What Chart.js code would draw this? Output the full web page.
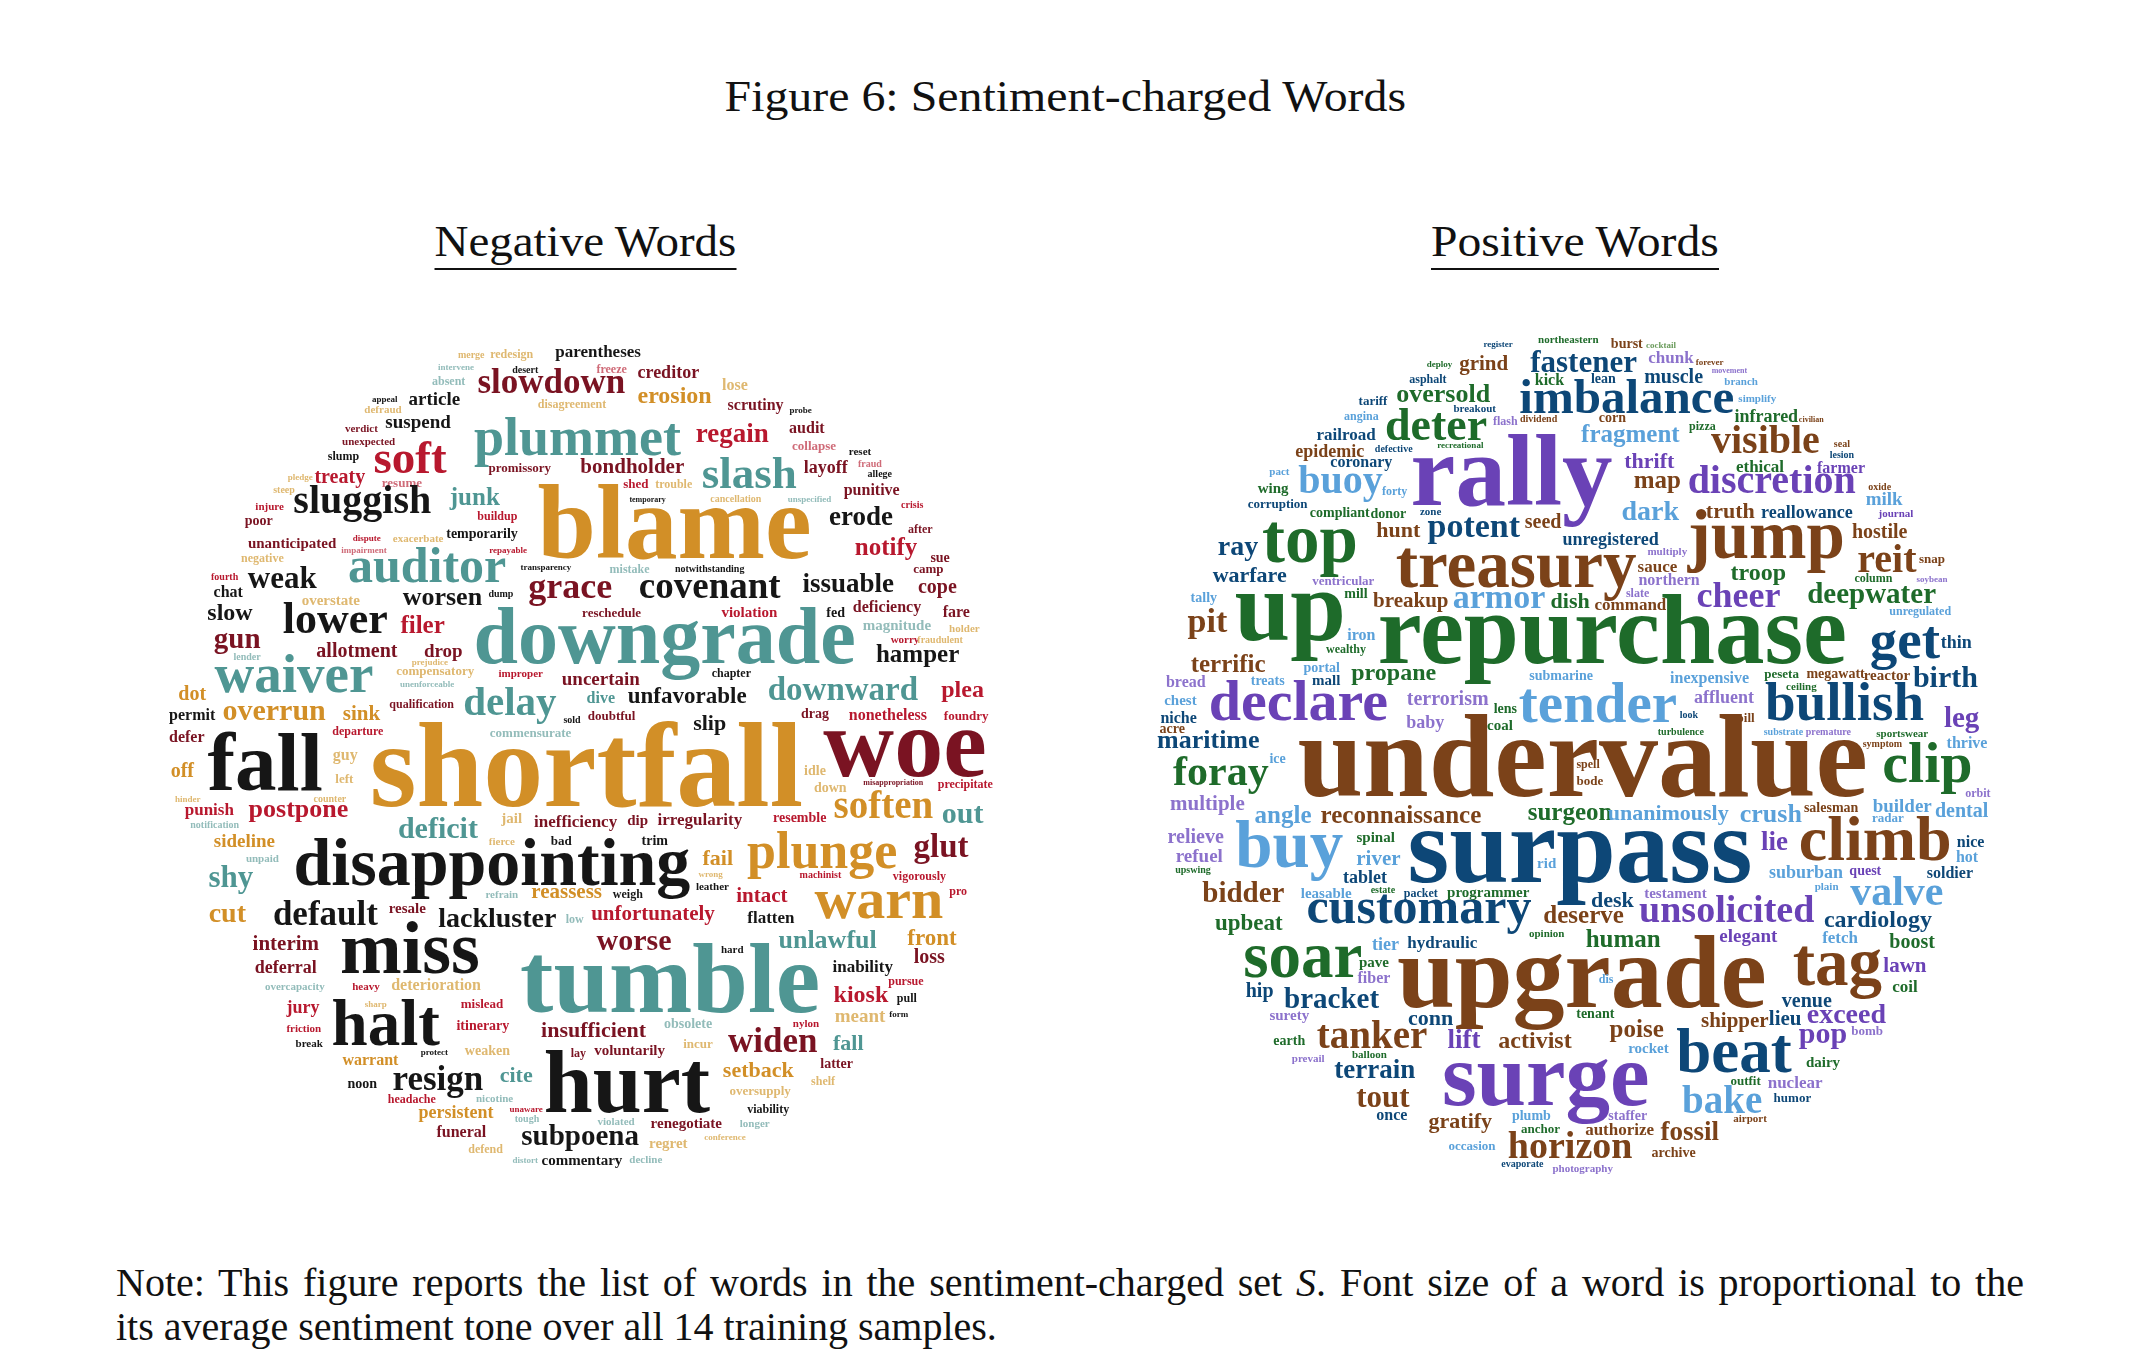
<!DOCTYPE html>
<html>
<head>
<meta charset="utf-8">
<script src="https://cdn.jsdelivr.net/npm/chart.js@4.4.1/dist/chart.umd.min.js"></script>
<style>
  html, body { margin: 0; padding: 0; background: #fff; }
  body { width: 2130px; height: 1362px; position: relative; overflow: hidden;
         font-family: "Liberation Serif", "DejaVu Serif", serif; color: #111; }
  .lbl { position: absolute; line-height: 0; white-space: nowrap; }
  .lbl span { display: inline-block; transform-origin: 50% 50%; }
  .sub { position: absolute; white-space: nowrap; line-height: 44px; font-size: 44px; text-align: center; width: 300px; }
  .sub span { display: inline-block; line-height: 44px; padding-bottom: 4px; border-bottom: 2px solid #111; transform-origin: 50% 50%; }
  canvas { position: absolute; }
  #note1, #note2 { position: absolute; left: 116px; width: 1908px; font-size: 40px; line-height: 0; white-space: nowrap; }
  #note1 { white-space: normal; text-align: justify; text-align-last: justify; }
</style>
</head>
<body>
<div class="lbl" id="title" style="left:0;width:2130px;text-align:center;top:97px;font-size:44px;"><span>Figure 6: Sentiment-charged Words</span></div>
<div class="sub" id="negTitle" style="left:435px;top:220px;"><span>Negative Words</span></div>
<div class="sub" id="posTitle" style="left:1425px;top:220px;"><span>Positive Words</span></div>
<canvas id="negCloud" width="900" height="900" style="left:140px;top:310px;width:900px;height:900px;"></canvas>
<canvas id="posCloud" width="900" height="900" style="left:1130px;top:310px;width:900px;height:900px;"></canvas>
<div id="note1" style="top:1283px;">Note: This figure reports the list of words in the sentiment-charged set <i>S</i>. Font size of a word is proportional to the</div>
<div id="note2" style="top:1327px;">its average sentiment tone over all 14 training samples.</div>
<script>
// word, x, y (0-100 layout grid), average sentiment tone, colour index
const negWords = [
  ["parentheses",50.9,5.2,1.7,0],["slowdown",45.7,9.2,3.5,1],["creditor",58.7,7.6,1.8,1],["freeze",52.4,7.0,1.2,7],
  ["erosion",59.4,10.3,2.4,3],["lose",66.1,8.9,1.6,5],["scrutiny",68.4,11.1,1.6,1],["probe",73.4,11.4,0.9,0],
  ["audit",74.1,13.7,1.6,1],["collapse",74.9,15.6,1.3,7],["regain",65.8,14.7,2.7,2],["plummet",48.6,16.1,5.4,4],
  ["bondholder",54.7,18.1,2.1,1],["slash",67.7,19.8,4.5,4],["layoff",76.2,18.1,1.8,1],["reset",80.0,16.1,1.1,0],
  ["fraud",81.1,17.4,1.0,7],["allege",82.2,18.6,1.0,0],["punitive",81.3,20.6,1.6,1],["shed",55.1,19.8,1.3,2],
  ["trouble",59.3,19.8,1.2,5],["temporary",56.4,21.3,0.8,0],["cancellation",66.2,21.3,1.0,5],["unspecified",74.4,21.3,0.9,6],
  ["blame",59.4,27.6,10.5,3],["erode",80.1,23.9,2.7,0],["crisis",85.8,22.0,1.0,2],["after",86.7,24.8,1.2,1],
  ["notify",82.9,27.2,2.5,2],["sue",88.9,28.0,1.4,1],["camp",87.6,29.2,1.3,1],["cope",88.6,31.4,2.0,1],
  ["fare",90.7,34.1,1.6,1],["holder",91.6,35.8,1.1,5],["issuable",78.7,31.3,2.7,0],["covenant",63.3,32.0,3.7,0],
  ["grace",47.8,32.0,3.6,1],["mistake",54.4,29.2,1.2,6],["notwithstanding",63.3,29.1,1.0,0],["deficiency",83.0,33.6,1.6,1],
  ["fed",77.3,34.1,1.4,0],["violation",67.7,34.1,1.5,2],["reschedule",52.4,34.1,1.3,1],["magnitude",84.1,35.6,1.5,6],
  ["downgrade",58.3,39.2,8.0,4],["hamper",86.4,39.1,2.5,0],["worry",85.0,37.0,1.1,2],["fraudulent",88.9,37.0,1.0,5],
  ["chapter",65.7,40.8,1.2,0],["uncertain",51.2,41.7,1.9,1],["dive",51.2,43.7,1.6,4],["unfavorable",60.8,43.7,2.3,0],
  ["downward",78.1,43.3,3.3,4],["plea",91.4,43.0,2.4,2],["doubtful",52.4,45.6,1.3,1],["slip",63.3,46.7,2.2,0],
  ["drag",75.0,45.3,1.4,1],["nonetheless",83.1,45.6,1.6,2],["foundry",91.8,45.6,1.3,2],["woe",85.0,51.8,9.8,1],
  ["shortfall",49.6,55.1,12.0,3],["fall",13.9,53.3,8.3,0],["redesign",41.3,5.3,1.2,5],["merge",36.8,5.3,1.0,5],
  ["absent",34.3,8.3,1.2,6],["desert",42.8,7.0,1.0,0],["intervene",35.1,6.7,0.9,6],["article",32.7,10.6,1.9,0],
  ["appeal",27.2,10.2,0.9,0],["defraud",27.0,11.4,1.1,5],["suspend",30.9,13.1,1.9,0],["verdict",24.6,13.6,1.1,1],
  ["unexpected",25.4,15.0,1.1,1],["disagreement",48.0,10.9,1.2,5],["slump",22.6,16.7,1.2,0],["soft",30.0,18.1,4.7,2],
  ["treaty",22.2,19.2,2.0,2],["pledge",17.8,18.9,0.9,5],["promissory",42.2,18.0,1.3,1],["resume",29.1,19.7,1.3,7],
  ["steep",16.0,20.3,1.0,5],["sluggish",24.7,22.6,4.0,0],["junk",37.2,21.7,2.5,4],["injure",14.4,22.2,1.1,2],
  ["poor",13.2,23.9,1.4,1],["buildup",39.7,23.3,1.2,2],["temporarily",38.0,25.3,1.4,0],["unanticipated",16.9,26.4,1.5,1],
  ["exacerbate",30.9,25.8,1.1,5],["dispute",25.2,25.7,0.9,2],["repayable",40.9,27.0,0.9,2],["impairment",24.9,27.0,0.9,7],
  ["negative",13.6,28.0,1.2,5],["auditor",31.9,30.2,5.0,4],["transparency",45.1,28.9,0.9,0],["fourth",9.4,30.0,1.0,2],
  ["weak",15.8,30.9,3.1,0],["chat",9.8,31.9,1.6,0],["overstate",21.2,32.8,1.5,5],["worsen",33.6,32.8,2.6,0],
  ["dump",40.1,31.9,1.0,0],["slow",10.0,34.4,2.4,0],["lower",21.7,35.9,4.4,0],["filer",31.4,35.9,2.5,2],
  ["gun",10.8,37.6,2.9,1],["allotment",24.1,38.6,2.0,1],["drop",33.7,38.6,1.9,1],["lender",11.9,38.9,1.0,6],
  ["prejudice",32.2,39.4,0.9,5],["compensatory",32.8,40.6,1.3,5],["improper",42.3,40.8,1.1,2],["waiver",17.1,42.4,5.5,4],
  ["unenforceable",31.9,41.9,0.9,6],["dot",5.8,43.3,2.0,3],["permit",5.8,45.6,1.6,0],["overrun",14.9,45.6,3.0,3],
  ["sink",24.6,45.6,2.1,3],["qualification",31.3,44.2,1.2,1],["delay",41.1,45.0,4.1,4],["defer",5.2,48.0,1.6,1],
  ["departure",24.2,47.2,1.2,2],["commensurate",43.4,47.4,1.3,6],["sold",48.0,45.9,1.0,0],["off",4.7,51.9,2.0,3],
  ["guy",22.8,50.0,1.6,5],["left",22.7,52.6,1.3,5],["punish",7.7,56.1,1.7,2],["postpone",17.6,56.3,2.6,2],
  ["hinder",5.3,54.7,0.9,5],["counter",21.1,54.7,1.0,5],["notification",8.3,57.6,1.0,6],["sideline",11.6,59.7,1.9,3],
  ["shy",10.1,64.1,3.1,4],["unpaid",13.6,61.3,1.1,6],["cut",9.7,68.0,2.8,3],["deficit",33.1,58.7,3.0,4],
  ["jail",41.3,57.0,1.5,5],["inefficiency",48.4,57.4,1.7,1],["dip",55.3,57.2,1.5,1],["irregularity",62.2,57.2,1.7,1],
  ["fierce",40.2,59.4,1.1,5],["bad",46.8,59.4,1.3,0],["disappointing",39.1,63.9,6.8,0],["trim",57.2,59.4,1.4,0],
  ["fail",64.2,61.7,2.2,3],["wrong",63.4,63.0,0.9,5],["weigh",54.2,65.3,1.2,0],["leather",63.6,64.4,1.1,0],
  ["intact",69.1,65.8,2.1,2],["resemble",73.3,56.9,1.4,2],["plunge",75.8,62.0,5.2,3],["soften",82.6,56.4,3.9,3],
  ["out",91.4,57.0,3.0,4],["glut",89.0,60.8,3.3,1],["idle",75.0,51.7,1.4,5],["down",76.7,53.6,1.4,5],
  ["misappropriation",83.7,52.8,0.8,1],["precipitate",91.7,53.1,1.2,2],["machinist",75.6,63.1,1.0,2],["vigorously",86.6,63.3,1.2,2],
  ["pro",90.9,65.0,1.2,2],["warn",82.1,67.6,5.8,3],["unfortunately",57.0,67.8,2.1,2],["flatten",70.1,68.1,1.7,0],
  ["worse",54.9,71.1,3.0,1],["reassess",47.4,65.3,2.1,3],["refrain",40.2,65.3,1.1,6],["default",20.6,68.3,3.5,0],
  ["resale",29.7,67.0,1.5,1],["lackluster",39.7,68.6,2.8,0],["low",48.3,68.1,1.2,6],["interim",16.2,71.1,2.1,1],
  ["miss",30.0,73.7,7.4,0],["deferral",16.2,73.7,1.8,1],["overcapacity",17.2,75.6,1.1,6],["heavy",25.1,75.6,1.1,2],
  ["deterioration",32.9,75.6,1.6,5],["jury",18.1,78.1,1.8,2],["friction",18.2,80.2,1.1,2],["break",18.8,81.9,1.1,0],
  ["halt",27.3,81.7,6.5,0],["sharp",26.2,77.4,0.9,5],["mislead",38.0,77.6,1.3,2],["itinerary",38.1,80.0,1.4,2],
  ["hurt",54.1,89.1,8.8,0],["tumble",58.9,78.0,10.0,4],["insufficient",50.4,80.8,2.2,1],["weaken",38.6,82.8,1.4,5],
  ["warrant",25.6,83.9,1.6,3],["protect",32.7,82.8,0.9,0],["resign",33.1,86.7,3.5,0],["noon",24.7,86.4,1.4,0],
  ["cite",41.8,85.8,2.2,4],["lay",48.7,83.0,1.2,1],["voluntarily",54.4,82.8,1.5,1],["obsolete",60.9,79.8,1.4,6],
  ["incur",62.0,82.0,1.3,5],["widen",70.3,82.4,3.5,1],["nylon",74.0,79.7,1.1,2],["setback",68.7,85.2,2.2,3],
  ["latter",77.4,84.2,1.4,1],["fall",78.7,82.2,2.2,4],["shelf",75.9,86.1,1.2,5],["oversupply",68.9,87.2,1.3,5],
  ["viability",69.8,89.2,1.2,0],["unlawful",76.4,70.9,2.6,4],["front",88.0,70.6,2.3,3],["hard",65.8,71.4,1.1,0],
  ["inability",80.3,73.6,1.7,0],["loss",87.7,72.6,2.0,1],["pursue",85.1,75.0,1.2,2],["kiosk",80.1,76.9,2.4,2],
  ["pull",85.2,76.9,1.2,0],["meant",80.0,79.1,1.9,5],["form",84.3,78.6,0.9,0],["violated",52.9,90.6,1.1,6],
  ["renegotiate",60.7,90.9,1.5,1],["longer",68.3,90.8,1.1,6],["regret",58.7,93.1,1.5,5],["subpoena",48.9,92.8,2.9,0],
  ["commentary",49.1,95.0,1.5,0],["decline",56.2,94.8,1.1,6],["conference",65.0,92.2,0.9,5],["funeral",35.7,91.9,1.6,1],
  ["defend",38.4,93.7,1.2,5],["persistent",35.1,89.8,1.8,3],["headache",30.2,88.1,1.2,2],["nicotine",39.4,88.0,1.1,6],
  ["unaware",42.9,89.1,0.9,2],["tough",43.0,90.2,1.0,6],["distort",42.8,94.8,0.9,6]
];

const posWords = [
  ["fastener",50.4,6.9,3.1,2],["northeastern",48.7,3.7,1.1,0],["burst",55.2,4.2,1.4,1],["cocktail",59.0,4.2,0.9,6],
  ["chunk",60.1,5.9,1.7,5],["forever",64.4,6.1,0.9,1],["grind",39.3,6.7,2.1,1],["deploy",34.4,6.3,0.9,0],
  ["register",40.9,4.1,0.9,2],["kick",46.6,8.3,1.6,0],["lean",52.6,8.1,1.4,2],["muscle",60.4,8.1,2.0,2],
  ["movement",66.6,7.0,0.8,5],["branch",67.9,8.3,1.1,4],["asphalt",33.1,8.1,1.2,2],["imbalance",55.2,11.4,4.9,2],
  ["tariff",27.0,10.6,1.3,2],["oversold",34.8,10.2,2.6,0],["breakout",38.3,11.3,1.1,2],["angina",25.7,12.2,1.2,4],
  ["deter",34.0,14.4,4.6,0],["flash",41.7,12.8,1.2,5],["dividend",45.4,12.4,1.0,1],["corn",53.6,12.4,1.4,1],
  ["railroad",24.0,14.4,1.7,2],["epidemic",22.2,16.3,1.8,1],["defective",29.3,15.8,1.0,2],["recreational",36.7,15.3,0.9,0],
  ["coronary",25.7,17.4,1.6,2],["rally",42.4,21.7,10.1,3],["fragment",55.6,14.7,2.5,4],["pizza",63.6,13.3,1.2,0],
  ["infrared",70.7,12.4,1.8,0],["civilian",75.7,12.4,0.8,1],["simplify",69.7,10.2,1.1,4],["visible",70.6,15.9,4.0,1],
  ["seal",79.1,15.2,1.0,1],["lesion",79.1,16.4,1.0,2],["thrift",57.7,17.6,2.2,3],["ethical",70.0,18.0,1.7,0],
  ["farmer",79.0,18.1,1.6,3],["map",58.6,19.8,2.5,1],["discretion",71.3,20.3,4.0,3],["oxide",83.3,20.0,1.0,1],
  ["dark",57.8,23.3,2.8,4],["truth",66.7,23.1,2.2,1],["reallowance",75.2,23.1,1.8,2],["milk",83.8,21.7,1.9,4],
  ["journal",85.1,23.0,1.1,3],["jump",70.7,27.6,6.9,1],["hostile",83.3,25.3,2.0,1],["reit",84.1,29.1,4.0,1],
  ["snap",89.1,28.1,1.3,1],["unregistered",53.4,26.1,1.8,2],["multiply",59.7,27.2,1.1,5],["sauce",58.6,29.1,1.7,1],
  ["northern",59.9,30.6,1.6,5],["troop",69.8,30.0,2.4,0],["treasury",42.9,30.8,6.7,1],["cheer",67.6,33.0,3.6,3],
  ["slate",56.4,31.9,1.2,5],["command",55.6,33.3,1.7,1],["deepwater",82.4,32.6,2.9,0],["column",82.6,30.2,1.2,0],
  ["soybean",89.1,30.2,0.9,5],["unregulated",87.8,33.9,1.2,4],["get",86.1,38.7,5.5,2],["thin",91.8,37.6,1.8,2],
  ["repurchase",53.6,39.2,9.9,0],["birth",90.6,41.9,3.0,2],["reactor",84.1,41.1,1.5,1],["megawatt",78.4,40.9,1.4,1],
  ["peseta",72.4,40.9,1.3,0],["ceiling",74.6,42.2,1.1,0],["inexpensive",64.4,41.4,1.6,4],["affluent",66.0,43.7,1.8,5],
  ["look",62.1,45.3,1.0,2],["pill",68.4,45.8,1.3,1],["bullish",79.4,45.6,5.5,2],["leg",92.4,46.3,2.9,3],
  ["tender",52.0,45.8,5.7,4],["thrive",93.0,48.7,1.6,4],["sportswear",85.8,47.4,1.1,0],["symptom",83.6,48.6,1.0,1],
  ["substrate",72.6,47.2,1.0,4],["premature",77.6,47.2,1.0,5],["turbulence",61.2,47.2,1.0,0],["clip",88.6,52.4,5.8,0],
  ["buoy",23.4,20.3,4.0,4],["forty",29.4,20.6,1.2,4],["pact",16.6,18.3,1.1,4],["wing",15.9,20.3,1.5,0],
  ["corruption",16.4,22.0,1.3,2],["compliant",23.3,23.0,1.4,0],["donor",28.7,23.1,1.4,0],["zone",33.4,22.8,1.1,2],
  ["seed",45.9,24.2,2.0,1],["potent",38.2,25.2,3.4,2],["hunt",29.8,25.2,2.2,1],["top",20.0,28.0,6.9,0],
  ["ray",12.0,27.2,2.8,2],["warfare",13.3,30.2,2.2,2],["ventricular",23.7,30.6,1.3,5],["tally",8.2,32.4,1.4,4],
  ["up",17.8,36.7,10.0,0],["pit",8.6,35.8,3.4,1],["mill",25.1,32.0,1.4,0],["breakup",31.2,33.0,2.1,1],
  ["armor",41.0,33.1,3.4,4],["dish",48.9,33.1,2.2,0],["iron",25.7,36.7,1.6,4],["wealthy",24.0,38.1,1.2,0],
  ["terrific",10.9,40.2,2.5,1],["portal",21.3,40.2,1.4,4],["propane",29.3,41.1,2.4,0],["submarine",47.9,41.1,1.4,4],
  ["bread",6.2,41.9,1.6,5],["treats",15.3,41.7,1.4,4],["mall",21.8,41.7,1.5,2],["terrorism",35.3,43.9,2.0,5],
  ["declare",18.7,45.6,5.8,3],["chest",5.6,43.9,1.5,4],["niche",5.4,45.9,1.6,2],["acre",4.7,47.0,1.4,1],
  ["maritime",8.7,48.7,2.6,2],["lens",41.7,44.8,1.4,0],["baby",32.8,46.4,1.8,5],["coal",41.1,46.7,1.5,0],
  ["undervalue",50.3,54.0,11.8,1],["ice",16.4,50.3,1.4,4],["foray",10.1,52.8,4.2,0],["multiple",8.6,55.6,2.1,5],
  ["reconnaissance",30.1,57.0,2.5,1],["angle",17.0,57.0,2.5,4],["surgeon",48.9,56.7,2.5,0],["unanimously",59.8,56.7,2.2,4],
  ["crush",71.2,56.9,2.6,4],["salesman",77.9,55.8,1.4,1],["builder",85.8,55.8,1.9,4],["dental",92.4,56.3,2.0,4],
  ["orbit",94.2,54.1,1.2,5],["spell",50.9,50.9,1.2,1],["bode",51.1,52.8,1.3,1],["radar",84.2,56.9,1.3,4],
  ["lie",71.6,60.0,2.7,3],["climb",82.8,61.1,6.4,1],["nice",93.4,59.7,1.6,2],["hot",93.0,61.3,1.6,4],
  ["suburban",75.1,63.1,1.8,4],["quest",81.7,62.8,1.4,3],["soldier",91.1,63.1,1.6,2],["valve",85.2,66.1,4.2,4],
  ["surpass",50.0,63.6,10.7,2],["desk",53.6,66.3,2.2,2],["testament",60.6,65.3,1.5,5],["unsolicited",66.3,68.0,3.8,3],
  ["plain",77.4,64.4,1.1,4],["cardiology",83.1,68.6,2.4,2],["deserve",50.4,68.1,2.5,1],["opinion",46.3,69.7,1.1,0],
  ["human",54.8,70.8,2.5,0],["elegant",68.7,70.2,1.9,3],["fetch",78.9,70.3,1.7,4],["boost",86.9,70.9,2.0,0],
  ["lawn",86.1,73.6,2.1,3],["coil",86.1,75.8,1.7,0],["tag",78.6,75.0,6.7,1],["upgrade",50.2,77.4,10.4,1],
  ["venue",75.2,77.4,2.0,2],["lieu",72.8,79.4,2.1,2],["exceed",79.6,79.2,2.8,3],["shipper",67.2,79.7,2.1,1],
  ["tenant",51.7,78.7,1.4,0],["poise",56.3,80.8,2.5,1],["pop",77.0,81.4,3.0,3],["bomb",81.9,80.6,1.3,5],
  ["beat",67.1,84.7,6.3,2],["rocket",57.6,82.6,1.5,4],["dairy",77.0,84.1,1.5,0],["nuclear",73.9,86.4,1.7,5],
  ["outfit",68.4,86.1,1.3,0],["humor",73.6,88.0,1.3,2],["surge",46.2,88.3,8.9,3],["bake",65.8,89.2,3.9,4],
  ["staffer",55.3,90.0,1.4,5],["authorize",54.4,91.7,1.7,1],["fossil",62.2,92.2,2.7,1],["airport",68.9,90.2,1.1,1],
  ["archive",60.4,94.1,1.4,1],["horizon",48.9,94.2,3.8,1],["photography",50.3,95.8,1.1,5],["evaporate",43.6,95.2,1.0,2],
  ["anchor",45.6,91.4,1.3,0],["plumb",44.6,90.0,1.4,4],["gratify",36.7,90.9,2.2,1],["occasion",38.0,93.3,1.3,4],
  ["once",29.1,90.0,1.6,2],["tout",28.1,88.6,3.1,1],["terrain",27.2,85.3,2.7,2],["prevail",19.8,83.6,1.1,5],
  ["balloon",26.6,83.1,1.1,0],["tanker",26.9,82.0,3.9,1],["earth",17.7,81.7,1.4,0],["surety",17.7,78.9,1.5,5],
  ["lift",37.1,82.0,2.7,3],["activist",45.0,82.0,2.4,1],["conn",33.4,79.4,2.2,2],["hip",14.4,76.3,2.0,2],
  ["bracket",22.4,77.6,2.9,2],["soar",19.2,74.1,6.5,0],["pave",27.1,73.0,1.5,0],["fiber",27.1,74.8,1.6,5],
  ["tier",28.4,71.1,1.8,4],["hydraulic",34.7,70.9,1.7,2],["upbeat",13.2,68.9,2.3,0],["customary",32.1,68.1,5.0,2],
  ["leasable",21.8,65.3,1.5,4],["packet",32.3,65.2,1.2,2],["programmer",39.8,65.2,1.5,0],["bidder",12.6,65.8,2.9,1],
  ["tablet",26.1,63.7,1.8,2],["buy",17.7,61.9,6.7,4],["river",27.6,61.7,2.1,4],["spinal",27.3,59.1,1.5,0],
  ["relieve",7.3,59.2,2.0,5],["refuel",7.7,61.3,1.9,5],["upswing",7.0,62.6,1.0,0],["rid",46.3,62.0,1.5,4],
  ["estate",28.1,64.8,1.0,0],["dis",52.9,74.8,1.2,4]
];

const negPalette = ["#161616", "#7a1322", "#b8182e", "#d28f27", "#4f9693", "#dfb870", "#93bcba", "#cf6b78"];
const posPalette = ["#1e6b2a", "#7b4219", "#0d4777", "#6a42b6", "#5aa1da", "#8c72cc", "#6a9b5b", "#a67b55"];

// draws each word at the pixel position the scales give for its point
const wordPlugin = {
  id: "words",
  afterDatasetsDraw(chart) {
    const ctx = chart.ctx;
    const rows = chart.config.options.wordRows;
    const pal = chart.config.options.wordPalette;
    const k = chart.chartArea.height / 90;
    const meta = chart.getDatasetMeta(0);
    ctx.save();
    ctx.textAlign = "center";
    ctx.textBaseline = "alphabetic";
    meta.data.forEach((pt, i) => {
      const r = rows[i];
      ctx.font = "bold " + (r[3] * k).toFixed(1) + "px 'Liberation Serif', 'DejaVu Serif', serif";
      ctx.fillStyle = pal[r[4]];
      ctx.fillText(r[0], pt.x, pt.y);
    });
    ctx.restore();
  }
};

function makeCloud(id, rows, palette) {
  return new Chart(document.getElementById(id), {
    type: "scatter",
    data: {
      labels: rows.map(r => r[0]),
      datasets: [{ data: rows.map(r => ({ x: r[1], y: r[2] })), pointRadius: 0, pointHoverRadius: 0 }]
    },
    options: {
      responsive: false,
      animation: false,
      events: [],
      layout: { padding: 0 },
      wordRows: rows,
      wordPalette: palette,
      plugins: { legend: { display: false }, tooltip: { enabled: false } },
      scales: {
        x: { type: "linear", min: 0, max: 100, display: false },
        y: { type: "linear", min: 0, max: 100, reverse: true, display: false }
      }
    },
    plugins: [wordPlugin]
  });
}

makeCloud("negCloud", negWords, negPalette);
makeCloud("posCloud", posWords, posPalette);

// stretch heading text to the widths of the original typesetting
function fit(id, target) {
  const s = document.querySelector("#" + id + " span");
  s.style.transform = "scaleX(" + (target / s.offsetWidth) + ")";
}
fit("title", 682);
fit("negTitle", 302);
fit("posTitle", 288);
</script>
</body>
</html>
